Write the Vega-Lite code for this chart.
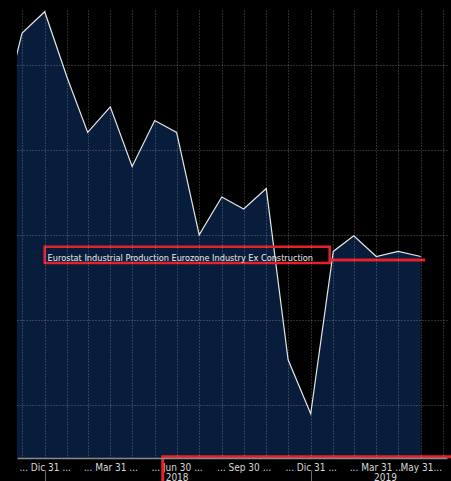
{
  "$schema": "https://vega.github.io/schema/vega-lite/v6.json",
  "autosize": {"type": "none"},
  "width": 430,
  "height": 448,
  "padding": {"left": 17, "top": 10, "right": 4, "bottom": 23},
  "background": "#000000",
  "config": {"view": {"stroke": null}, "font": "'DejaVu Sans Condensed', 'Liberation Sans', sans-serif"},
  "datasets": {
    "ip": [
      {"date": "2017-10-31", "value": 2.68},
      {"date": "2017-11-30", "value": 4.75},
      {"date": "2017-12-31", "value": 5.25},
      {"date": "2018-01-31", "value": 3.69},
      {"date": "2018-02-28", "value": 2.41},
      {"date": "2018-03-31", "value": 3.01},
      {"date": "2018-04-30", "value": 1.61},
      {"date": "2018-05-31", "value": 2.69},
      {"date": "2018-06-30", "value": 2.41},
      {"date": "2018-07-31", "value": 0.0},
      {"date": "2018-08-31", "value": 0.89},
      {"date": "2018-09-30", "value": 0.61},
      {"date": "2018-10-31", "value": 1.09},
      {"date": "2018-11-30", "value": -2.94},
      {"date": "2018-12-31", "value": -4.21},
      {"date": "2019-01-31", "value": -0.39},
      {"date": "2019-02-28", "value": -0.02},
      {"date": "2019-03-31", "value": -0.51},
      {"date": "2019-04-30", "value": -0.39},
      {"date": "2019-05-31", "value": -0.51}
    ],
    "one": [{}]
  },
  "resolve": {"axis": {"x": "independent", "y": "independent"}},
  "layer": [
    {
      "data": {"name": "ip"},
      "mark": {"type": "area", "color": "#081c3c", "clip": true},
      "encoding": {
        "x": {
          "field": "date", "type": "temporal",
          "scale": {"domain": [{"year": 2017, "month": 11, "date": 23, "utc": true}, {"year": 2019, "month": 7, "date": 6, "utc": true}]},
          "axis": {
            "orient": "bottom", "title": null, "labels": false, "ticks": false,
            "domain": true, "domainColor": "#8a8a8a", "domainWidth": 1.5,
            "grid": true, "gridColor": "#ffffff", "gridOpacity": 0.35, "gridDash": [1, 2], "gridWidth": 1,
            "zindex": 1,
            "values": [
              {"year": 2017, "month": 11, "date": 30, "utc": true},
              {"year": 2017, "month": 12, "date": 31, "utc": true},
              {"year": 2018, "month": 1, "date": 31, "utc": true},
              {"year": 2018, "month": 2, "date": 28, "utc": true},
              {"year": 2018, "month": 3, "date": 31, "utc": true},
              {"year": 2018, "month": 4, "date": 30, "utc": true},
              {"year": 2018, "month": 5, "date": 31, "utc": true},
              {"year": 2018, "month": 6, "date": 30, "utc": true},
              {"year": 2018, "month": 7, "date": 31, "utc": true},
              {"year": 2018, "month": 8, "date": 31, "utc": true},
              {"year": 2018, "month": 9, "date": 30, "utc": true},
              {"year": 2018, "month": 10, "date": 31, "utc": true},
              {"year": 2018, "month": 11, "date": 30, "utc": true},
              {"year": 2018, "month": 12, "date": 31, "utc": true},
              {"year": 2019, "month": 1, "date": 31, "utc": true},
              {"year": 2019, "month": 2, "date": 28, "utc": true},
              {"year": 2019, "month": 3, "date": 31, "utc": true},
              {"year": 2019, "month": 4, "date": 30, "utc": true},
              {"year": 2019, "month": 5, "date": 31, "utc": true},
              {"year": 2019, "month": 6, "date": 30, "utc": true}
            ]
          }
        },
        "y": {
          "field": "value", "type": "quantitative",
          "scale": {"domain": [-5.25, 5.29], "nice": false, "zero": false},
          "axis": {
            "title": null, "labels": false, "ticks": false, "domain": false,
            "grid": true, "gridColor": "#ffffff", "gridOpacity": 0.35, "gridDash": [1, 2], "gridWidth": 1,
            "zindex": 1, "values": [-4, -2, 0, 2, 4]
          }
        },
        "y2": {"datum": -5.25}
      }
    },
    {
      "data": {"name": "ip"},
      "mark": {"type": "line", "color": "#e6e6e6", "strokeWidth": 1.2, "clip": true},
      "encoding": {
        "x": {
          "field": "date", "type": "temporal",
          "axis": {
            "orient": "bottom", "title": null, "grid": false, "ticks": false, "tickSize": 0, "domain": false,
            "labelPadding": 4, "labelFontSize": 10, "labelColor": "#d8d8d8",
            "labelOverlap": false, "labelFlush": false,
            "values": [
              {"year": 2017, "month": 12, "date": 31, "utc": true},
              {"year": 2018, "month": 3, "date": 31, "utc": true},
              {"year": 2018, "month": 6, "date": 30, "utc": true},
              {"year": 2018, "month": 9, "date": 30, "utc": true},
              {"year": 2018, "month": 12, "date": 31, "utc": true},
              {"year": 2019, "month": 3, "date": 31, "utc": true},
              {"year": 2019, "month": 5, "date": 31, "utc": true}
            ],
            "labelExpr": "utcmonth(datum.value) == 4 ? 'May 31...' : '... ' + (utcmonth(datum.value) == 11 ? 'Dic' : utcFormat(datum.value, '%b')) + ' ' + utcFormat(datum.value, '%d') + ' ...'"
          }
        },
        "y": {"field": "value", "type": "quantitative", "axis": null}
      }
    },
    {
      "data": {"name": "one"},
      "mark": {"type": "rect", "stroke": "#e3232b", "strokeWidth": 2.5, "fillOpacity": 0},
      "encoding": {
        "x": {
          "datum": {"year": 2017, "month": 12, "date": 31, "utc": true}, "type": "temporal",
          "axis": {
            "orient": "bottom", "title": null, "grid": false, "ticks": false, "tickSize": 0, "domain": false,
            "labelPadding": 14, "labelFontSize": 10, "labelColor": "#d8d8d8",
            "labelOverlap": false, "labelFlush": false,
            "values": [
              {"year": 2018, "month": 6, "date": 30, "utc": true},
              {"year": 2019, "month": 4, "date": 12, "utc": true}
            ],
            "labelExpr": "utcFormat(datum.value, '%Y')"
          }
        },
        "x2": {"datum": {"year": 2019, "month": 1, "date": 26, "utc": true}},
        "y": {"datum": -0.28, "type": "quantitative", "axis": null},
        "y2": {"datum": -0.66}
      }
    },
    {
      "data": {"name": "one"},
      "mark": {"type": "rule", "stroke": "#e3232b", "strokeWidth": 3},
      "encoding": {
        "x": {"datum": {"year": 2019, "month": 1, "date": 26, "utc": true}, "type": "temporal", "axis": null},
        "x2": {"datum": {"year": 2019, "month": 6, "date": 6, "utc": true}},
        "y": {"datum": -0.59, "type": "quantitative", "axis": null}
      }
    },
    {
      "data": {"name": "one"},
      "mark": {"type": "text", "align": "left", "baseline": "alphabetic", "fontSize": 9.1, "color": "#ececec"},
      "encoding": {
        "x": {"datum": {"year": 2018, "month": 1, "date": 4, "utc": true}, "type": "temporal", "axis": null},
        "y": {"datum": -0.61, "type": "quantitative", "axis": null},
        "text": {"value": "Eurostat Industrial Production Eurozone Industry Ex Construction"}
      }
    },
    {
      "data": {"name": "one"},
      "mark": {"type": "rect", "stroke": "#e3232b", "strokeWidth": 3, "fillOpacity": 0},
      "encoding": {
        "x": {
          "datum": {"year": 2018, "month": 6, "date": 11, "utc": true}, "type": "temporal",
          "axis": {
            "orient": "bottom", "title": null, "grid": false, "labels": false, "domain": false,
            "ticks": true, "tickSize": 12, "tickColor": "#6a6a6a", "tickWidth": 1, "offset": 12,
            "values": [
              {"year": 2017, "month": 12, "date": 31, "utc": true},
              {"year": 2018, "month": 12, "date": 31, "utc": true}
            ]
          }
        },
        "x2": {"datum": {"year": 2019, "month": 8, "date": 15, "utc": true}},
        "y": {"datum": -5.22, "type": "quantitative", "axis": null},
        "y2": {"datum": -6.3}
      }
    }
  ]
}
